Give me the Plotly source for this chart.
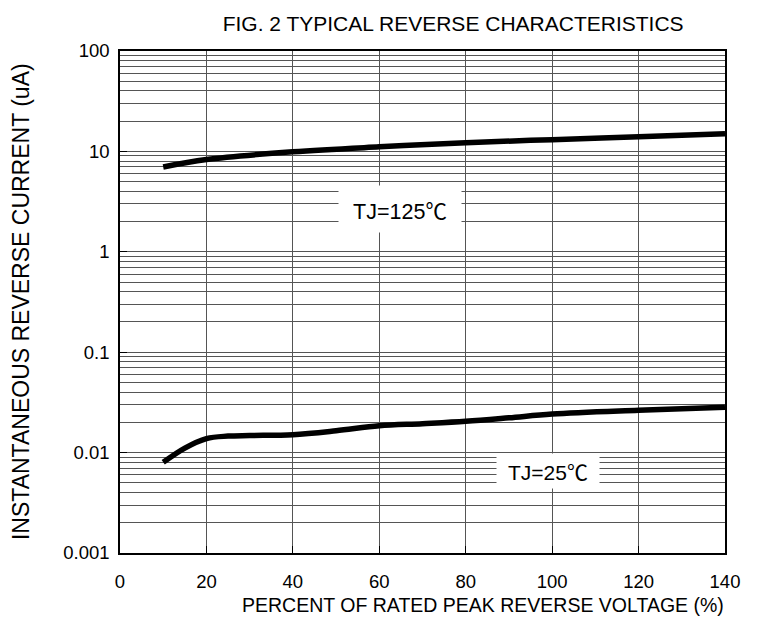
import plotly.graph_objects as go

# ---- data ----
x_125 = [10, 20, 40, 60, 80, 100, 120, 140]
y_125 = [7.0, 8.3, 9.9, 11.1, 12.2, 13.1, 14.0, 15.0]

x_25 = [10, 15, 20, 25, 30, 40, 50, 60, 70, 80, 90, 100, 120, 140]
y_25 = [0.0080, 0.0111, 0.0138, 0.0146, 0.0148, 0.0151, 0.0165, 0.0185,
        0.0194, 0.0205, 0.0222, 0.0242, 0.0264, 0.0283]

x_ticks = [0, 20, 40, 60, 80, 100, 120, 140]
y_tickvals = [0.001, 0.01, 0.1, 1, 10, 100]
y_ticktext = ["0.001", "0.01", "0.1", "1", "10", "100"]

label_125 = "TJ=125<span style=\"font-family:'Noto Sans CJK SC'\">℃</span>"
label_25 = "TJ=25<span style=\"font-family:'Noto Sans CJK SC'\">℃</span>"
title_text = "FIG. 2 TYPICAL REVERSE CHARACTERISTICS"
x_title = "PERCENT OF RATED PEAK REVERSE VOLTAGE (%)"
y_title = "INSTANTANEOUS REVERSE CURRENT (uA)"

FONT = "Liberation Sans, Arial, sans-serif"
GRID = "#555555"

fig = go.Figure()
fig.add_trace(go.Scatter(x=x_125, y=y_125, mode="lines",
                         line=dict(color="black", width=5.5, shape="spline"),
                         showlegend=False, hoverinfo="skip"))
fig.add_trace(go.Scatter(x=x_25, y=y_25, mode="lines",
                         line=dict(color="black", width=5.5, shape="spline"),
                         showlegend=False, hoverinfo="skip"))

fig.update_layout(
    width=757, height=634,
    margin=dict(l=112, r=40, t=43, b=89),
    paper_bgcolor="white", plot_bgcolor="white",
    font=dict(family=FONT, color="black", size=18),
    title=dict(text=title_text, xref="container", yref="container",
               x=0.588, y=0.975, xanchor="center", yanchor="middle",
               font=dict(family=FONT, size=21, color="black")),
)

fig.update_xaxes(
    range=[0, 140], tickvals=x_ticks, showgrid=True, gridcolor=GRID, gridwidth=1,
    showline=True, linecolor="black", linewidth=1.5, mirror=True,
    ticks="inside", ticklen=7, tickcolor="black", tickwidth=1,
    tickfont=dict(size=18.5, family=FONT, color="black"),
    zeroline=False, ticklabelstandoff=11,
)
fig.update_yaxes(
    type="log", range=[-3, 2], tickvals=y_tickvals, ticktext=y_ticktext,
    showgrid=True, gridcolor=GRID, gridwidth=1,
    minor=dict(dtick="D1", showgrid=True, gridcolor=GRID, gridwidth=1, ticks=""),
    showline=True, linecolor="black", linewidth=1.5, mirror=True,
    ticks="inside", ticklen=7, tickcolor="black", tickwidth=1,
    tickfont=dict(size=18.5, family=FONT, color="black"),
    zeroline=False, ticklabelstandoff=5,
)

fig.add_annotation(x=64.8, y=0.426, xref="x", yref="y", text=label_125,
                   showarrow=False, bgcolor="white", width=120, height=44,
                   font=dict(family=FONT, size=21.5, color="black"))
fig.add_annotation(x=99, y=-2.183, xref="x", yref="y", text=label_25,
                   showarrow=False, bgcolor="white", width=100, height=32,
                   font=dict(family=FONT, size=21, color="black"))

fig.add_annotation(x=0.6, y=-0.104, xref="paper", yref="paper", text=x_title,
                   showarrow=False, xanchor="center", yanchor="middle",
                   font=dict(family=FONT, size=19.5, color="black"))
fig.add_annotation(x=-0.1636, y=0.5, xref="paper", yref="paper", text=y_title,
                   showarrow=False, textangle=-90, xanchor="center", yanchor="middle",
                   font=dict(family=FONT, size=23, color="black"))

fig.write_html("out.html")
